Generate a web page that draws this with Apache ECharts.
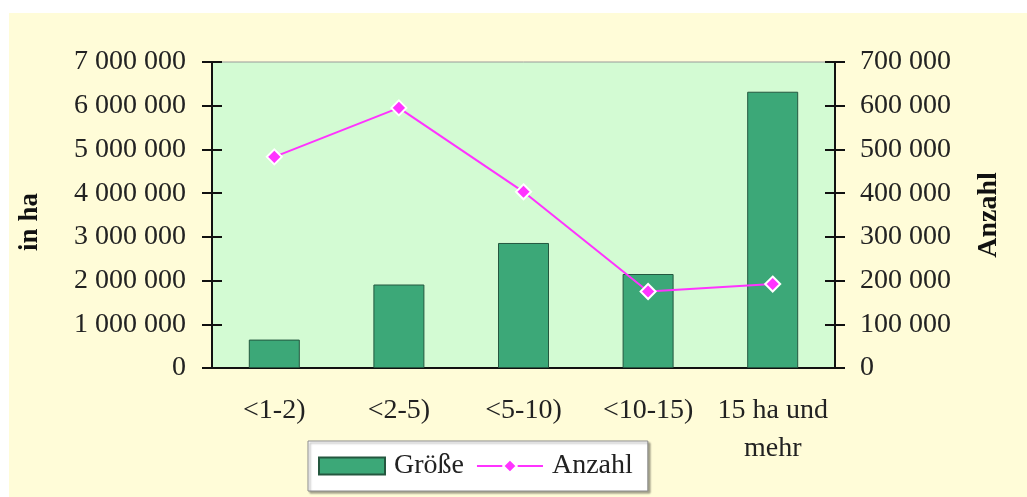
<!DOCTYPE html>
<html>
<head>
<meta charset="utf-8">
<script src="https://cdn.jsdelivr.net/npm/echarts@6/dist/echarts.min.js"></script>
<style>
  html, body { margin: 0; padding: 0; background: #ffffff; }
  #chart { position: absolute; left: 9px; top: 13px; width: 1018px; height: 484px; background: #fffcd8; }
</style>
</head>
<body>
<div id="chart"></div>
<script>
// Daten
const categories = ['<1-2)', '<2-5)', '<5-10)', '<10-15)', '15 ha und\nmehr'];
const groesse = [650000, 1910000, 2860000, 2150000, 6320000];
const anzahl = [483000, 595000, 403000, 175000, 192000];

const serif = 'Liberation Serif';
const fmt = v => String(v).replace(/\B(?=(\d{3})+(?!\d))/g, ' ');

const chart = echarts.init(document.getElementById('chart'));

const option = {
  animation: false,
  textStyle: { fontFamily: serif },
  grid: {
    left: 200, right: 192, top: 49, bottom: 129,
    show: true,
    backgroundColor: '#d3fbd3',
    borderColor: '#9a9a9a',
    borderWidth: 1
  },
  legend: {
    left: 299, top: 428,
    padding: [11, 15, 11, 10],
    itemWidth: 66, itemHeight: 17, itemGap: 12,
    backgroundColor: '#ffffff',
    borderColor: '#8a8a8a', borderWidth: 1,
    shadowColor: 'rgba(0,0,0,0.35)', shadowBlur: 2, shadowOffsetX: 2, shadowOffsetY: 2,
    textStyle: { fontFamily: serif, fontSize: 28, color: '#222', padding: [0, 0, 0, 4] },
    data: [{ name: 'Größe', icon: 'rect' }, 'Anzahl']
  },
  xAxis: [
    {
      type: 'category', data: categories,
      axisLine: { lineStyle: { color: '#111', width: 2 } },
      axisTick: { length: 11, lineStyle: { color: '#111', width: 2 } },
      axisLabel: { interval: 0, fontFamily: serif, fontSize: 28, color: '#222', margin: 24, lineHeight: 38 }
    },
    {
      type: 'category', data: categories, position: 'bottom',
      axisLine: { show: false },
      axisTick: { inside: true, length: 11, lineStyle: { color: '#111', width: 2 } },
      axisLabel: { show: false }
    }
  ],
  yAxis: [
    {
      type: 'value', min: 0, max: 7000000, interval: 1000000, position: 'left',
      name: 'in ha', nameLocation: 'middle', nameGap: 168, nameRotate: 90,
      nameTextStyle: { fontFamily: serif, fontSize: 27, fontWeight: 'bold', color: '#111', padding: [0, 14, 0, 0] },
      axisLine: { show: true, lineStyle: { color: '#111', width: 2 } },
      axisTick: { show: true, length: 10, lineStyle: { color: '#111', width: 2 } },
      splitLine: { show: false },
      axisLabel: { fontFamily: serif, fontSize: 28, color: '#222', margin: 26, formatter: fmt }
    },
    {
      type: 'value', min: 0, max: 700000, interval: 100000, position: 'right',
      name: 'Anzahl', nameLocation: 'middle', nameGap: 140, nameRotate: 90,
      nameTextStyle: { fontFamily: serif, fontSize: 28, fontWeight: 'bold', color: '#111' },
      axisLine: { show: true, lineStyle: { color: '#111', width: 2 } },
      axisTick: { show: true, length: 10, lineStyle: { color: '#111', width: 2 } },
      splitLine: { show: false },
      axisLabel: { fontFamily: serif, fontSize: 28, color: '#222', margin: 25, formatter: fmt }
    },
    {
      type: 'value', min: 0, max: 7000000, interval: 1000000, position: 'left',
      axisLine: { show: false },
      axisTick: { show: true, inside: true, length: 10, lineStyle: { color: '#111', width: 2 } },
      splitLine: { show: false }, axisLabel: { show: false }
    },
    {
      type: 'value', min: 0, max: 700000, interval: 100000, position: 'right',
      axisLine: { show: false },
      axisTick: { show: true, inside: true, length: 10, lineStyle: { color: '#111', width: 2 } },
      splitLine: { show: false }, axisLabel: { show: false }
    }
  ],
  series: [
    {
      name: 'Größe', type: 'bar', yAxisIndex: 0, barWidth: 51,
      itemStyle: { color: '#3ca878', borderColor: '#24573f', borderWidth: 1 },
      data: groesse
    },
    {
      name: 'Anzahl', type: 'line', yAxisIndex: 1,
      symbol: 'diamond', symbolSize: 15,
      lineStyle: { color: '#ff33ff', width: 2 },
      itemStyle: { color: '#ff33ff', borderColor: '#ffffff', borderWidth: 2 },
      data: anzahl
    }
  ]
};

chart.setOption(option);
</script>
</body>
</html>
